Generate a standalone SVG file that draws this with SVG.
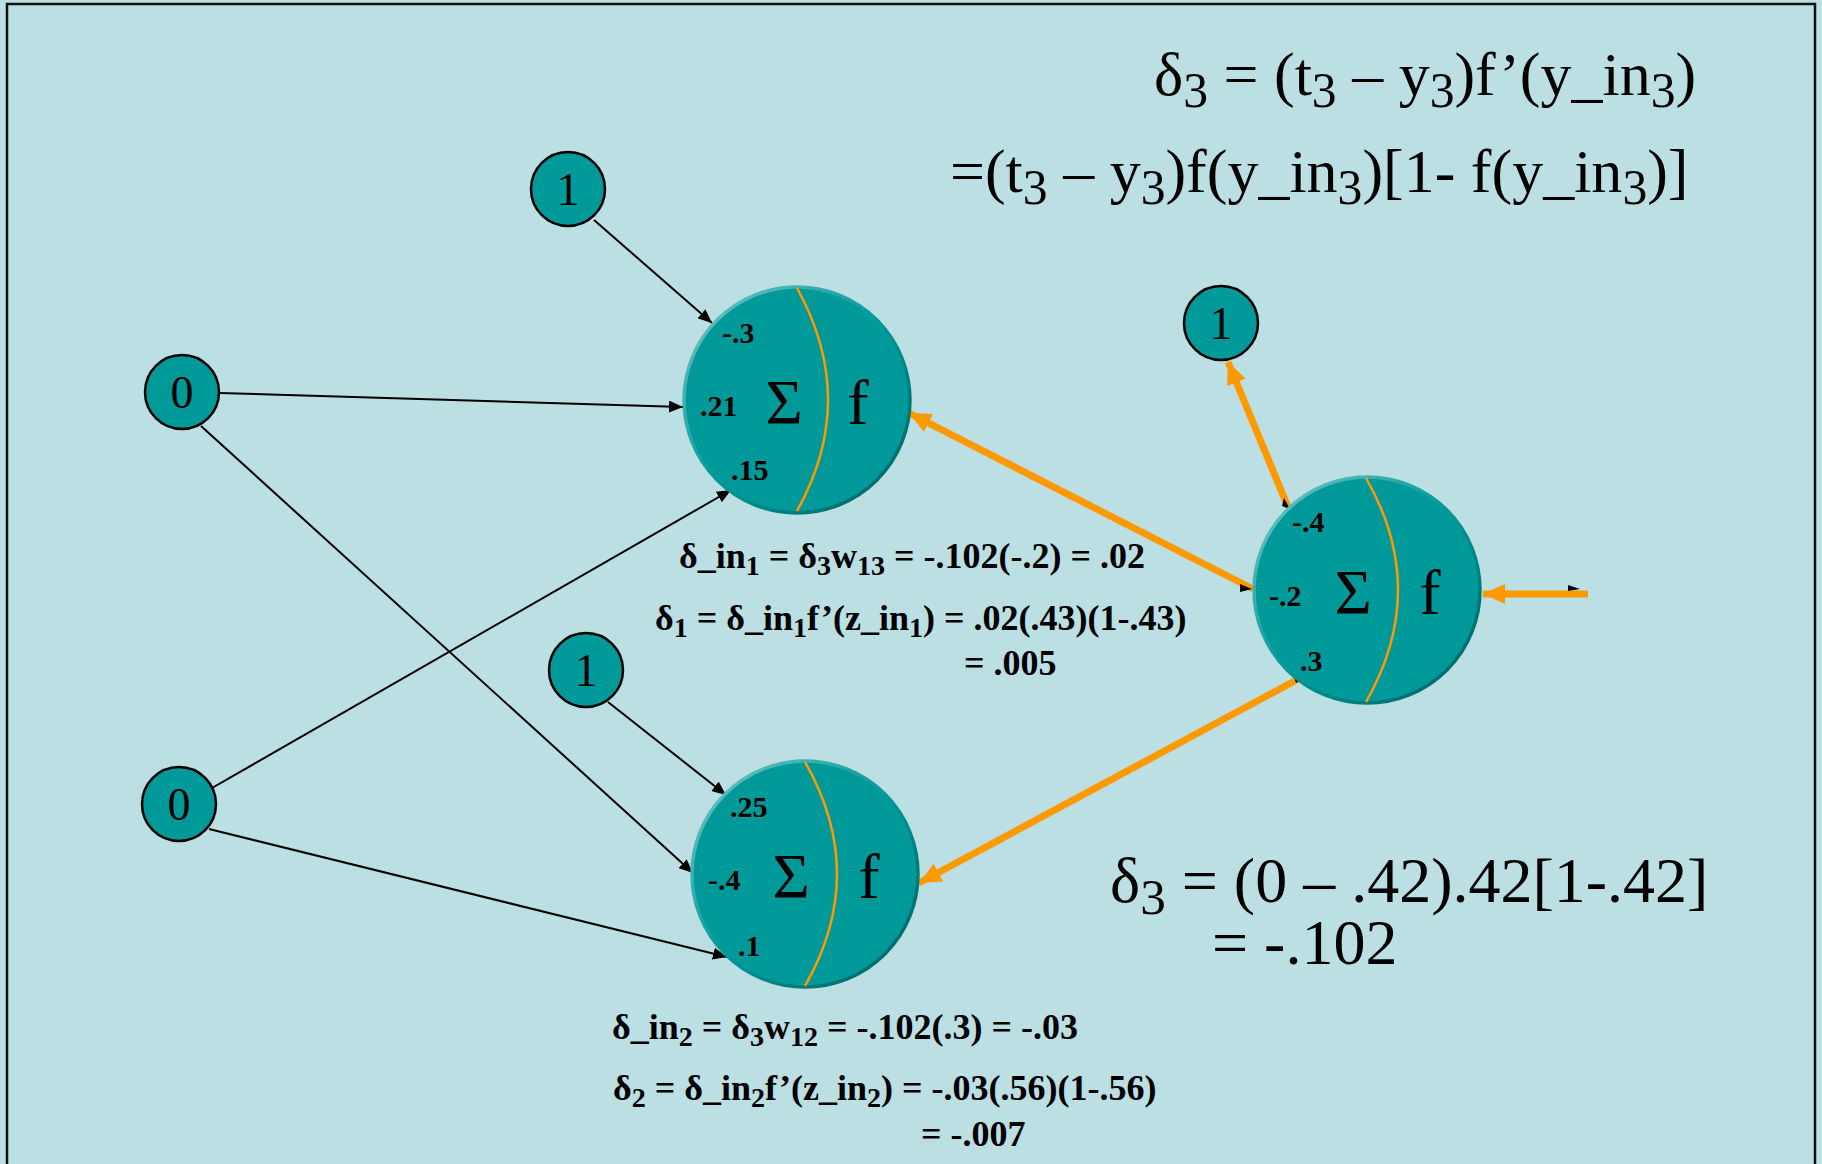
<svg xmlns="http://www.w3.org/2000/svg" width="1822" height="1164" viewBox="0 0 1822 1164">
<defs>
<style>
.bg{fill:#BBDFE2;}
.frame{fill:none;stroke:#111;stroke-width:2.5;}
.small{fill:#009999;stroke:#000;stroke-width:2.5;}
.big{fill:#009999;stroke:url(#bevel);stroke-width:3.5;}
.div{fill:none;stroke:#FF9900;stroke-width:2.5;}
.num{font-family:"Liberation Serif","Times New Roman",serif;font-size:46px;fill:#000;text-anchor:middle;}
.sym{font-family:"Liberation Serif","Times New Roman",serif;font-size:64px;fill:#000;text-anchor:middle;}
.w{font-family:"Liberation Serif","Times New Roman",serif;font-size:30px;font-weight:bold;fill:#000;}
.eq{font-family:"Liberation Serif","Times New Roman",serif;font-size:62px;fill:#000;}
.eq2{font-family:"Liberation Serif","Times New Roman",serif;font-size:64px;fill:#000;}
.beq{font-family:"Liberation Serif","Times New Roman",serif;font-size:36px;font-weight:bold;fill:#000;}
.s{font-size:80%;}
.bs{font-size:78%;}
.blk{stroke:#000;stroke-width:2;fill:none;marker-end:url(#ah);}
.org{stroke:#FF9900;stroke-width:7;fill:none;marker-end:url(#oh);}
</style>
<linearGradient id="bevel" x1="0" y1="0" x2="1" y2="1">
<stop offset="0" stop-color="#7cc8c8"/>
<stop offset="0.5" stop-color="#009999"/>
<stop offset="1" stop-color="#005c5c"/>
</linearGradient>
<marker id="ah" markerUnits="userSpaceOnUse" markerWidth="16" markerHeight="12" refX="14" refY="6" orient="auto">
<path d="M0,0 L14,6 L0,12 Z" fill="#000"/>
</marker>
<marker id="oh" markerUnits="userSpaceOnUse" markerWidth="24" markerHeight="20" refX="22" refY="10" orient="auto">
<path d="M0,0 L22,10 L0,20 Z" fill="#FF9900"/>
</marker>
</defs>
<rect class="bg" x="0" y="0" width="1822" height="1164"/>
<rect class="frame" x="7" y="4" width="1808" height="1180"/>

<g id="connectors">
<line class="blk" x1="594" y1="220" x2="712" y2="323"/>
<line class="blk" x1="219" y1="393" x2="683" y2="407"/>
<line class="blk" x1="201" y1="426" x2="693" y2="873"/>
<line class="blk" x1="212" y1="788" x2="731" y2="490"/>
<line class="blk" x1="209" y1="829" x2="727" y2="957"/>
<line class="blk" x1="608" y1="702" x2="726" y2="795"/>
<line class="org" x1="1253" y1="589" x2="909" y2="413"/>
<line class="org" x1="1288" y1="507" x2="1228" y2="362"/>
<line class="org" x1="1302" y1="677" x2="919" y2="883"/>
<line class="org" x1="1588" y1="594" x2="1483" y2="594"/>
<path d="M1240,584 L1252,589 L1240,592 Z" fill="#000"/>
<path d="M1284,498 L1290,509 L1282,506 Z" fill="#000"/>
<path d="M1293,674 L1304,677 L1296,683 Z" fill="#000"/>
<path d="M1568,585 L1580,589 L1568,591 Z" fill="#000"/>
</g>

<g id="node-bias-top">
<circle class="small" cx="568" cy="189" r="37"/>
<text class="num" x="568" y="205">1</text>
</g>
<g id="node-x1">
<circle class="small" cx="182" cy="392" r="37"/>
<text class="num" x="182" y="408">0</text>
</g>
<g id="node-x2">
<circle class="small" cx="179" cy="804" r="37"/>
<text class="num" x="179" y="820">0</text>
</g>
<g id="node-bias-mid">
<circle class="small" cx="586" cy="670" r="37"/>
<text class="num" x="586" y="686">1</text>
</g>
<g id="node-bias-out">
<circle class="small" cx="1221" cy="323" r="37"/>
<text class="num" x="1221" y="339">1</text>
</g>

<g id="node-z1">
<circle class="big" cx="797" cy="400" r="113"/>
<path class="div" d="M797,288 Q859,400 797,511"/>
<text class="sym" x="784" y="424">Σ</text>
<text class="sym" x="858" y="424">f</text>
<text class="w" x="722" y="343">-.3</text>
<text class="w" x="700" y="416">.21</text>
<text class="w" x="731" y="480">.15</text>
</g>
<g id="node-z2">
<circle class="big" cx="805" cy="874" r="113"/>
<path class="div" d="M805,762 Q869,874 805,986"/>
<text class="sym" x="791" y="898">Σ</text>
<text class="sym" x="869" y="898">f</text>
<text class="w" x="730" y="817">.25</text>
<text class="w" x="708" y="890">-.4</text>
<text class="w" x="738" y="956">.1</text>
</g>
<g id="node-y3">
<circle class="big" cx="1367" cy="590" r="113"/>
<path class="div" d="M1366,478 Q1430,590 1366,702"/>
<text class="sym" x="1353" y="614">Σ</text>
<text class="sym" x="1430" y="614">f</text>
<text class="w" x="1292" y="532">-.4</text>
<text class="w" x="1269" y="606">-.2</text>
<text class="w" x="1300" y="671">.3</text>
</g>

<g id="formulas">
<text class="eq" x="1154" y="95">δ<tspan class="s" dy="12">3</tspan><tspan dy="-12"> =  (t</tspan><tspan class="s" dy="12">3</tspan><tspan dy="-12"> – y</tspan><tspan class="s" dy="12">3</tspan><tspan dy="-12">)f’(y_in</tspan><tspan class="s" dy="12">3</tspan><tspan dy="-12">)</tspan></text>
<text class="eq" x="950" y="192">=(t<tspan class="s" dy="12">3</tspan><tspan dy="-12"> – y</tspan><tspan class="s" dy="12">3</tspan><tspan dy="-12">)f(y_in</tspan><tspan class="s" dy="12">3</tspan><tspan dy="-12">)[1- f(y_in</tspan><tspan class="s" dy="12">3</tspan><tspan dy="-12">)]</tspan></text>
<text class="eq2" x="1110" y="902">δ<tspan class="s" dy="12">3</tspan><tspan dy="-12"> = (0 – .42).42[1-.42]</tspan></text>
<text class="eq2" x="1212" y="964">= -.102</text>

<text class="beq" x="679" y="568">δ_in<tspan class="bs" dy="7">1</tspan><tspan dy="-7"> = δ</tspan><tspan class="bs" dy="7">3</tspan><tspan dy="-7">w</tspan><tspan class="bs" dy="7">13</tspan><tspan dy="-7"> = -.102(-.2) = .02</tspan></text>
<text class="beq" x="655" y="630">δ<tspan class="bs" dy="7">1</tspan><tspan dy="-7"> = δ_in</tspan><tspan class="bs" dy="7">1</tspan><tspan dy="-7">f’(z_in</tspan><tspan class="bs" dy="7">1</tspan><tspan dy="-7">) = .02(.43)(1-.43)</tspan></text>
<text class="beq" x="964" y="675">= .005</text>

<text class="beq" x="612" y="1039">δ_in<tspan class="bs" dy="7">2</tspan><tspan dy="-7"> = δ</tspan><tspan class="bs" dy="7">3</tspan><tspan dy="-7">w</tspan><tspan class="bs" dy="7">12</tspan><tspan dy="-7"> = -.102(.3) = -.03</tspan></text>
<text class="beq" x="613" y="1100">δ<tspan class="bs" dy="7">2</tspan><tspan dy="-7"> = δ_in</tspan><tspan class="bs" dy="7">2</tspan><tspan dy="-7">f’(z_in</tspan><tspan class="bs" dy="7">2</tspan><tspan dy="-7">) = -.03(.56)(1-.56)</tspan></text>
<text class="beq" x="921" y="1146">= -.007</text>
</g>
</svg>
